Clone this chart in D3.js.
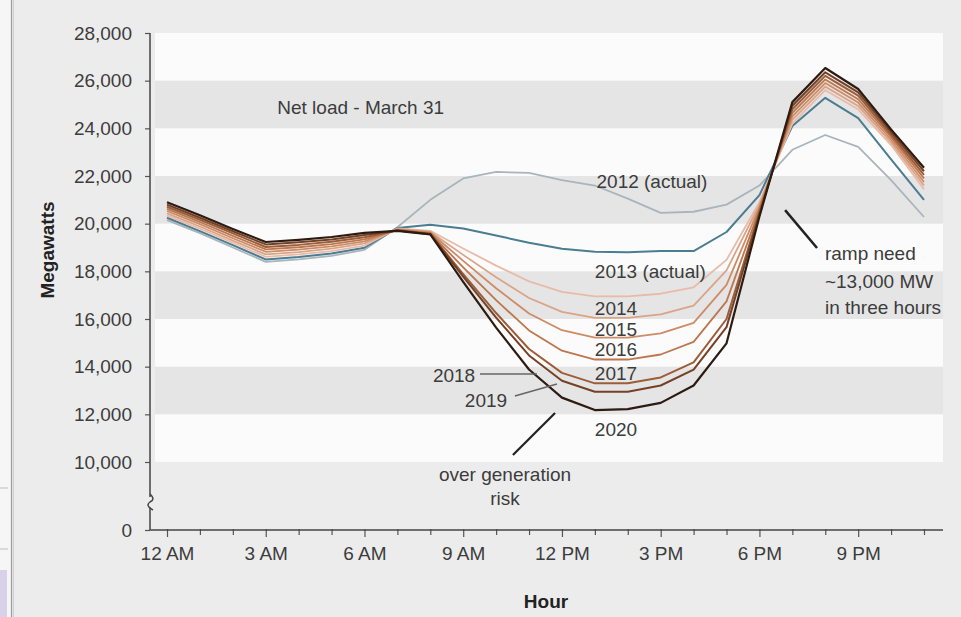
<!DOCTYPE html>
<html>
<head>
<meta charset="utf-8">
<script src="https://cdn.jsdelivr.net/npm/d3@7"></script>
<style>
  html, body { margin: 0; padding: 0; background: #ececec; }
  svg { display: block; font-family: "Liberation Sans", Arial, Helvetica, sans-serif; }
</style>
</head>
<body>
<script>
// ---------------- DATA ----------------
const hours = [0,1,2,3,4,5,6,7,8,9,10,11,12,13,14,15,16,17,18,19,20,21,22,23];
const hourTickValues = [0,3,6,9,12,15,18,21];
const hourTickLabels = ["12 AM","3 AM","6 AM","9 AM","12 PM","3 PM","6 PM","9 PM"];
const yTickValues = [0,10000,12000,14000,16000,18000,20000,22000,24000,26000,28000];
const whiteBands = [[26000,28000],[22000,24000],[18000,20000],[14000,16000],[10000,12000]];

const years = ["2012","2013","2014","2015","2016","2017","2018","2019","2020"];
const y2012 = [20150,19600,19000,18400,18500,18650,18900,19850,21000,21900,22170,22130,21830,21600,21050,20450,20500,20800,21600,23100,23720,23220,21830,20280];
const y2013 = [20250,19690,19100,18500,18600,18750,18990,19820,19950,19800,19500,19200,18950,18820,18800,18850,18850,19650,21200,24100,25280,24430,22700,21000];
const y2014 = [20340,19790,19200,18610,18710,18850,19080,19800,19700,18960,18240,17580,17140,16950,16950,17060,17330,18480,20900,24200,25600,24800,23300,21450];
const y2015 = [20430,19880,19290,18710,18810,18950,19170,19780,19660,18690,17750,16880,16300,16050,16050,16190,16560,18040,20800,24350,25750,24940,23410,21600];
const y2016 = [20530,19980,19390,18820,18910,19050,19260,19760,19630,18440,17290,16230,15530,15220,15220,15400,15840,17430,20700,24500,25900,25080,23520,21750];
const y2017 = [20620,20070,19490,18920,19010,19140,19340,19740,19600,18170,16790,15520,14670,14300,14300,14510,15040,16740,20600,24650,26050,25220,23630,21900];
const y2018 = [20710,20160,19590,19020,19110,19240,19430,19720,19580,17880,16250,14740,13740,13300,13300,13550,14180,16000,20500,24800,26200,25370,23730,22050];
const y2019 = [20800,20250,19680,19130,19220,19340,19520,19710,19560,17780,16060,14470,13410,12950,12950,13210,13880,15660,20400,24950,26350,25510,23840,22200];
const y2020 = [20900,20350,19780,19230,19320,19440,19610,19700,19550,17560,15640,13880,12700,12180,12220,12480,13210,14980,20300,25100,26530,25650,23950,22350];
const seriesValues = [y2012,y2013,y2014,y2015,y2016,y2017,y2018,y2019,y2020];

// ---------------- STYLE ----------------
const seriesColors = ["#a9b5ba","#4a7d92","#e8bba8","#daa487","#cd8b66","#bd774e","#9c5d38","#744126","#2c1b12"];
const seriesWidths = [1.8,2,1.8,1.8,1.8,1.8,2,2,2.2];
const textColor = "#3c3c3c";

// ---------------- LAYOUT ----------------
const W = 961, H = 617;
const plotLeft = 155, plotRight = 943, axisX = 150, axisY = 530;

const svg = d3.select("body").append("svg").attr("width", W).attr("height", H);

// page background & screenshot edge details
svg.append("rect").attr("width", W).attr("height", H).attr("fill", "#ececec");
svg.append("rect").attr("x", 0).attr("y", 0).attr("width", 11).attr("height", H).attr("fill", "#f6f6f6");
svg.append("line").attr("x1", 0).attr("x2", 8).attr("y1", 488).attr("y2", 488).attr("stroke", "#bdbdbd");
svg.append("line").attr("x1", 0).attr("x2", 8).attr("y1", 549).attr("y2", 549).attr("stroke", "#bdbdbd");
svg.append("rect").attr("x", 0).attr("y", 570).attr("width", 7).attr("height", 47).attr("fill", "#d8d1ea");
svg.append("line").attr("x1", 11.5).attr("x2", 11.5).attr("y1", 0).attr("y2", H).attr("stroke", "#9c9c9c").attr("stroke-width", 1.2);
svg.append("line").attr("x1", 13.5).attr("x2", 13.5).attr("y1", 0).attr("y2", H).attr("stroke", "#cfcfcf").attr("stroke-width", 1);

// scales (broken axis: 0 -> 10,000 compressed)
const x = d3.scaleLinear().domain([0, 23]).range([167, 924]);
const y = d3.scaleLinear().domain([0, 10000, 28000]).range([axisY, 462, 33]);

// bands
svg.append("rect").attr("x", plotLeft).attr("width", plotRight - plotLeft)
  .attr("y", y(28000)).attr("height", y(10000) - y(28000)).attr("fill", "#e5e5e5");
svg.selectAll("rect.band").data(whiteBands).join("rect").attr("class", "band")
  .attr("x", plotLeft).attr("width", plotRight - plotLeft)
  .attr("y", d => y(d[1])).attr("height", d => y(d[0]) - y(d[1]))
  .attr("fill", "#fbfbfb");

// Y axis
const yAxis = d3.axisLeft(y).tickValues(yTickValues).tickFormat(d3.format(",")).tickSize(5).tickPadding(13);
const gy = svg.append("g").attr("transform", `translate(${axisX},0)`).call(yAxis);
gy.select(".domain").remove();
gy.selectAll(".tick line").attr("stroke", "#555").attr("stroke-width", 1.2);
gy.selectAll(".tick text").attr("fill", textColor).style("font-size", "19px");
svg.append("line").attr("x1", axisX).attr("x2", axisX).attr("y1", y(28000)).attr("y2", axisY)
  .attr("stroke", "#444").attr("stroke-width", 1.5);
// axis break mark
svg.append("rect").attr("x", axisX - 3).attr("y", 497).attr("width", 6).attr("height", 10).attr("fill", "#ececec");
svg.append("path").attr("d", `M${axisX},494 C${axisX + 4},498 ${axisX + 4},500 ${axisX},502 C${axisX - 3},504 ${axisX - 3},507 ${axisX + 3},510`)
  .attr("fill", "none").attr("stroke", "#444").attr("stroke-width", 1.5);

// X axis
const xAxis = d3.axisBottom(x).tickValues(hours)
  .tickFormat(d => { const i = hourTickValues.indexOf(d); return i >= 0 ? hourTickLabels[i] : ""; })
  .tickSizeInner(5).tickSizeOuter(0).tickPadding(20);
const gx = svg.append("g").attr("transform", `translate(0,${axisY})`).call(xAxis);
gx.select(".domain").remove();
gx.selectAll(".tick line").attr("stroke", "#555").attr("stroke-width", 1.2)
  .attr("y1", -1).attr("y2", d => hourTickValues.includes(d) ? 7 : 5);
gx.selectAll(".tick text").attr("fill", textColor).style("font-size", "19px").attr("y", 17);
svg.append("line").attr("x1", axisX).attr("x2", plotRight).attr("y1", axisY).attr("y2", axisY)
  .attr("stroke", "#444").attr("stroke-width", 1.5);

// Axis titles
svg.append("text").attr("transform", `translate(54,${250}) rotate(-90)`).attr("text-anchor", "middle")
  .attr("fill", "#222").style("font-size", "19px").style("font-weight", "bold").text("Megawatts");
svg.append("text").attr("x", 546).attr("y", 608).attr("text-anchor", "middle")
  .attr("fill", "#222").style("font-size", "19px").style("font-weight", "bold").text("Hour");

// Lines
const line = d3.line().x((d, i) => x(hours[i])).y(d => y(d)).curve(d3.curveLinear);
svg.selectAll("path.series").data(seriesValues).join("path").attr("class", "series")
  .attr("d", d => line(d)).attr("fill", "none")
  .attr("stroke", (d, i) => seriesColors[i]).attr("stroke-width", (d, i) => seriesWidths[i])
  .attr("stroke-linejoin", "round");

// Annotations
const ann = (t, hx, vy, anchor) => svg.append("text").attr("x", x(hx)).attr("y", y(vy))
  .attr("text-anchor", anchor || "start").attr("fill", textColor).style("font-size", "19px").text(t);
ann("Net load - March 31", 3.35, 24600);
ann("2012 (actual)", 13.05, 21500);
ann("2013 (actual)", 13.0, 17720);
ann("2014", 13.0, 16170);
ann("2015", 13.0, 15290);
ann("2016", 13.0, 14450);
ann("2017", 13.0, 13440);
ann("2020", 13.0, 11090);
ann("2018", 8.08, 13360);
ann("2019", 9.05, 12310);
ann("over generation", 10.27, 7200, "middle");
ann("risk", 10.27, 3680, "middle");
ann("ramp need", 19.99, 18480);
ann("~13,000 MW", 19.99, 17280);
ann("in three hours", 19.99, 16230);

const pointer = (h1, v1, h2, v2, col, w) => svg.append("line")
  .attr("x1", x(h1)).attr("y1", y(v1)).attr("x2", x(h2)).attr("y2", y(v2))
  .attr("stroke", col).attr("stroke-width", w);
pointer(9.51, 13690, 11.24, 13690, "#666", 1.5);
pointer(10.57, 12770, 11.85, 13270, "#666", 1.5);
pointer(10.51, 10290, 11.79, 12060, "#222", 2.2);
pointer(18.78, 20570, 19.75, 18980, "#222", 2.5);
</script>
</body>
</html>
